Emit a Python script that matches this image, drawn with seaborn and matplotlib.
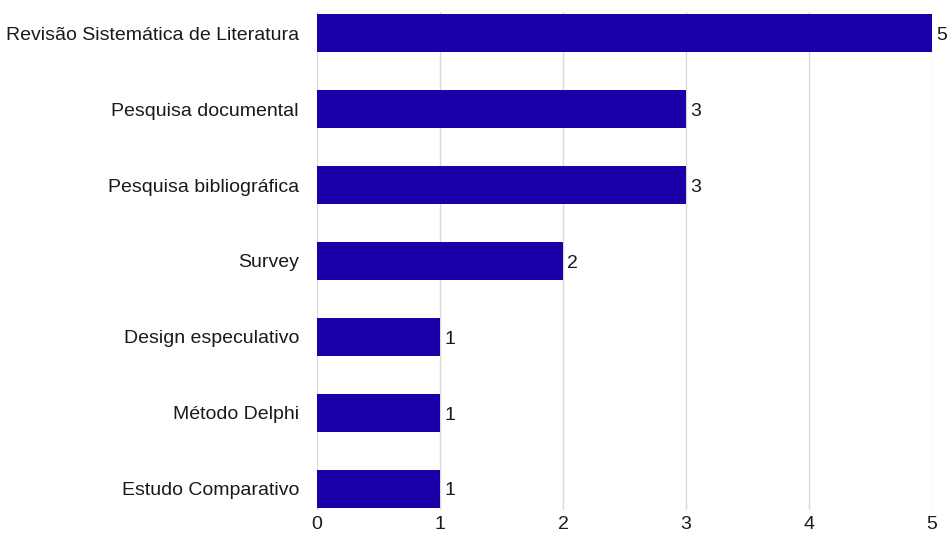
import matplotlib
matplotlib.use("Agg")
import matplotlib.pyplot as plt
import seaborn as sns
import pandas as pd

methods = [
    "Revisão Sistemática de Literatura",
    "Pesquisa documental",
    "Pesquisa bibliográfica",
    "Survey",
    "Design especulativo",
    "Método Delphi",
    "Estudo Comparativo",
]
counts = [5, 3, 3, 2, 1, 1, 1]
x_ticks = [0, 1, 2, 3, 4, 5]

df = pd.DataFrame({"metodo": methods, "qtd": counts})

sns.set_theme(style="white")
plt.rcParams["font.family"] = ["Liberation Sans", "DejaVu Sans"]

fig = plt.figure(figsize=(9.49, 5.34), dpi=100)
ax = fig.add_axes([0.334, 0.045, 0.648, 0.9325])

bar_color = "#1a00a8"
sns.barplot(data=df, y="metodo", x="qtd", orient="h", color=bar_color,
            width=0.5, saturation=1, linewidth=0, ax=ax, zorder=3)

ax.set_xlim(0, 5)
ax.set_ylim(6.28, -0.28)
ax.set_xticks(x_ticks)
ax.set_xticklabels([str(t) for t in x_ticks], fontsize=14, color="#1a1a1a")
ax.tick_params(axis="y", labelsize=14, labelcolor="#1a1a1a", length=0, pad=13)
ax.tick_params(axis="x", length=0, pad=4)
ax.set_xlabel("")
ax.set_ylabel("")
ax.grid(axis="x", color="#d9d9d9", linewidth=1, zorder=0)
ax.grid(axis="y", visible=False)
for s in ax.spines.values():
    s.set_visible(False)

for i, v in enumerate(counts):
    ax.text(v + 0.035, i + 0.03, str(v), va="center", ha="left", fontsize=14,
            color="#1a1a1a", clip_on=False)

fig.savefig("out.png", dpi=100, facecolor="white")
